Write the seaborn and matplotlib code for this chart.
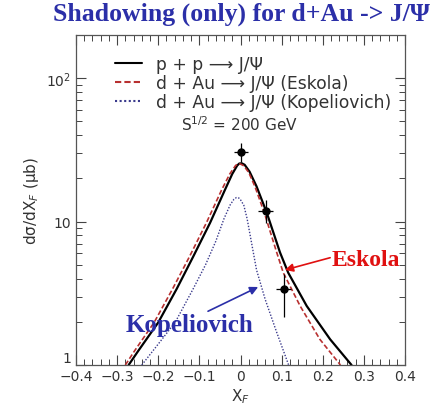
import numpy as np
import pandas as pd
import seaborn as sns
import matplotlib
matplotlib.use("Agg")
import matplotlib.pyplot as plt
from matplotlib.ticker import FixedLocator, FixedFormatter, MultipleLocator, NullFormatter

# curves (xF, dsigma/dxF in microbarn)
pp_x = [-0.272, -0.249, -0.2, -0.155, -0.115, -0.074, -0.038, -0.02, -0.008, -0.003, 0.003, 0.01,
        0.022, 0.039, 0.064, 0.096, 0.116, 0.161, 0.218, 0.27]
pp_y = [1.0, 1.25, 1.98, 3.4, 5.7, 9.8, 16.6, 21.5, 24.6, 25.4, 25.5, 24.9,
        22.3, 17.6, 11.5, 6.1, 4.4, 2.58, 1.51, 1.0]

esk_x = [-0.28, -0.258, -0.21, -0.165, -0.124, -0.083, -0.046, -0.026, -0.012, -0.006, 0.0, 0.008,
         0.02, 0.035, 0.058, 0.088, 0.104, 0.145, 0.193, 0.243]
esk_y = [1.0, 1.25, 1.98, 3.4, 5.7, 9.8, 16.6, 21.5, 24.6, 25.3, 25.2, 24.5,
         22.0, 17.6, 11.5, 6.1, 4.4, 2.58, 1.51, 1.0]

kop_x = [-0.24, -0.2, -0.159, -0.115, -0.085, -0.06, -0.04, -0.025, -0.016, -0.01, -0.004, 0.0,
         0.008, 0.016, 0.025, 0.039, 0.06, 0.088, 0.117]
kop_y = [1.0, 1.4, 1.98, 3.4, 5.0, 7.3, 10.5, 13.1, 14.3, 14.7, 14.6, 14.2,
         13.0, 10.5, 7.6, 4.6, 2.87, 1.69, 1.0]

# data points with errors
pt_x = [0.001, 0.061, 0.105]
pt_y = [30.5, 11.8, 3.4]
pt_ylo = [26.0, 9.8, 2.15]
pt_yhi = [35.5, 14.2, 4.3]
pt_xerr = [0.017, 0.018, 0.018]

names = ["p + p ⟶ J/Ψ",
         "d + Au ⟶ J/Ψ (Eskola)",
         "d + Au ⟶ J/Ψ (Kopeliovich)"]

df = pd.concat([
    pd.DataFrame({"xF": pp_x, "y": pp_y, "curve": names[0]}),
    pd.DataFrame({"xF": esk_x, "y": esk_y, "curve": names[1]}),
    pd.DataFrame({"xF": kop_x, "y": kop_y, "curve": names[2]}),
])

sns.set_style("ticks")
plt.rcParams["font.family"] = ["DejaVu Sans"]

fig = plt.figure(figsize=(4.4, 4.06), dpi=100)
ax = fig.add_axes([76 / 440, 40 / 406, 329 / 440, 330 / 406])

sns.lineplot(data=df, x="xF", y="y", hue="curve", style="curve",
             palette={names[0]: "black", names[1]: "#b83030", names[2]: "#3a3a8c"},
             dashes={names[0]: "", names[1]: (3, 1.5), names[2]: (1, 1.2)},
             estimator=None, sort=False, ax=ax)
for ln, lw in zip(ax.lines, [1.6, 1.2, 1.0]):
    ln.set_linewidth(lw)

yerr = [np.array(pt_y) - np.array(pt_ylo), np.array(pt_yhi) - np.array(pt_y)]
ax.errorbar(pt_x, pt_y, yerr=yerr, xerr=pt_xerr, fmt="o", color="black",
            ms=5, elinewidth=0.9, capsize=0, zorder=5)

ax.set_yscale("log")
ax.set_xlim(-0.4, 0.4)
ax.set_ylim(1, 200)
ax.xaxis.set_minor_locator(MultipleLocator(0.02))
ax.set_xticks([-0.4, -0.3, -0.2, -0.1, 0, 0.1, 0.2, 0.3, 0.4])
ax.set_xticklabels(["−0.4", "−0.3", "−0.2", "−0.1", "0", "0.1", "0.2", "0.3", "0.4"])
ax.yaxis.set_major_locator(FixedLocator([1, 10, 100]))
ax.yaxis.set_major_formatter(FixedFormatter(["1", "10", "$10^2$"]))
ax.yaxis.set_minor_formatter(NullFormatter())
ax.tick_params(which="both", direction="in", top=True, right=True, colors="#444444",
               labelcolor="#333333", labelsize=10)
ax.tick_params(axis="x", pad=3)
ax.tick_params(which="major", length=7, width=0.8)
ax.tick_params(which="minor", length=4, width=0.7)
for lbl in ax.get_yticklabels():
    if lbl.get_text() == "1":
        lbl.set_verticalalignment("bottom")
for s in ax.spines.values():
    s.set_color("#555555")
    s.set_linewidth(0.9)

ax.set_xlabel("X$_F$", fontsize=11, color="#333333", labelpad=2)
ax.set_ylabel("dσ/dX$_F$ (μb)", fontsize=11, color="#333333")

h, l = ax.get_legend_handles_labels()
ax.legend(h, l, loc="upper left", bbox_to_anchor=(0.082, 0.975), frameon=False, fontsize=12.3,
          labelspacing=0.05, handlelength=1.6, handletextpad=0.8, borderaxespad=0.3,
          labelcolor="#333333")

ax.text(0.498, 0.73, "S$^{1/2}$ = 200 GeV", transform=ax.transAxes, ha="center",
        va="center", fontsize=11, color="#333333")

serif = ["Liberation Serif", "DejaVu Serif"]
fig.text(0.548, 0.965, "Shadowing (only) for d+Au -> J/Ψ", ha="center", va="center",
         fontsize=18.5, fontweight="bold", color="#2b2fa8", family=serif)

ax.text(0.222, 5.45, "Eskola", color="#e01010", fontsize=17, fontweight="bold",
        family=serif, va="center", ha="left")
ax.annotate("", xy=(0.108, 4.6), xytext=(0.218, 5.6),
            arrowprops=dict(arrowstyle="-|>", color="#e01010", lw=1.2, mutation_scale=12,
                            shrinkA=0, shrinkB=0))
ax.text(-0.123, 1.93, "Kopeliovich", color="#2b2fa8", fontsize=18, fontweight="bold",
        family=serif, va="center", ha="center")
ax.annotate("", xy=(0.043, 3.5), xytext=(-0.079, 2.37),
            arrowprops=dict(arrowstyle="-|>", color="#2b2fa8", lw=1.2, mutation_scale=12,
                            shrinkA=0, shrinkB=0))

fig.savefig("out.png", dpi=100)
